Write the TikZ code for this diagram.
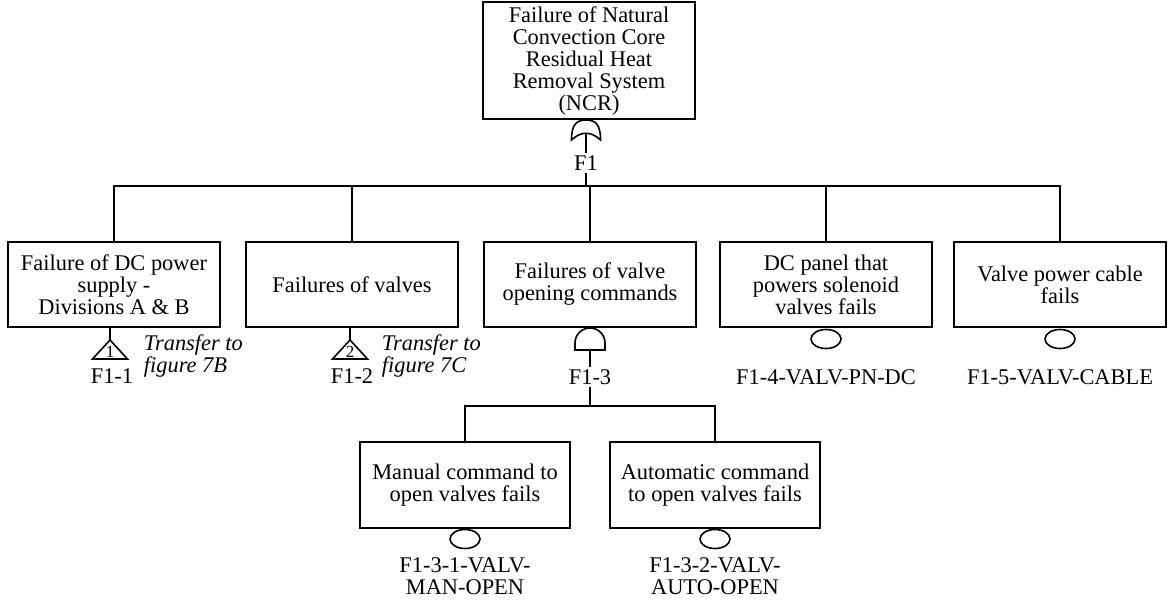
\documentclass[tikz,border=0pt]{standalone}
\usepackage{fontspec}
\setmainfont{Liberation Serif}
\usetikzlibrary{shapes.geometric}

\begin{document}
\begin{tikzpicture}
    [
    x=0.5pt, y=-0.5pt
    , line width=0.9pt
    , evbox/.style = {draw,minimum width=106pt,minimum height=42.5pt,inner sep=2pt,align=center}
    , basic/.style = {draw,ellipse,line width=0.8pt,minimum width=15pt,minimum height=9.5pt,inner sep=0pt}
    , evlbl/.style = {inner sep=1pt,align=center}
    , xferlbl/.style = {inner sep=0pt,anchor=west,align=left,font=\itshape}
    , orgate/.pic = {\draw[line width=0.8pt] (-14.5,0) .. controls (-14.5,-15) and (-10,-20) .. (0,-20)
                      .. controls (10,-20) and (14.5,-15) .. (14.5,0)
                      .. controls (5,-9) and (-5,-9) .. cycle;
                     \coordinate (-in) at (0,-6.75); \coordinate (-out) at (0,-20);}
    , andgate/.pic = {\draw[line width=0.8pt] (-15,0) -- (-15,-7) arc[start angle=180,end angle=360,radius=15] -- (15,0) -- cycle;
                      \coordinate (-in) at (0,0);}
    , xfer/.pic = {\draw[line width=0.8pt] (0,0) -- (17.5,19) -- (-17.5,19) -- cycle;
                   \node[inner sep=0pt,font=\fontsize{8.5}{8.5}\selectfont] at (0,11.5) {#1};
                   \coordinate (-top) at (0,0);}
    ]
\fontsize{11.2}{11}\selectfont
\useasboundingbox (0,0) rectangle (1170,599);

% top event
\node[evbox,minimum height=57.5pt] (ncr) at (589,60.5) {Failure of Natural\\Convection Core\\Residual Heat\\Removal System\\(NCR)};
\pic (gF1) at (586,140) {orgate};
\node[evlbl] (lF1) at (586,163) {F1};
\coordinate (busF1) at (586,186);
\draw (ncr.south -| gF1-out) -- (gF1-out);
\draw (gF1-in) -- (lF1.north);
\draw (lF1.south) -- (busF1);

% second level
\node[evbox] (dcps)  at (114,284.5)  {Failure of DC power\\supply -\\Divisions A \& B};
\node[evbox] (valv)  at (352,284.5)  {Failures of valves};
\node[evbox] (cmd)   at (590,284.5)  {Failures of valve\\opening commands};
\node[evbox] (panel) at (826,284.5)  {DC panel that\\powers solenoid\\valves fails};
\node[evbox] (cable) at (1060,284.5) {Valve power cable\\fails};
\foreach \b in {dcps,valv,cmd,panel,cable}
    \draw (busF1) -| (\b.north);

% transfers
\pic (tF11) at (110,340) {xfer=1};
\draw (tF11-top |- dcps.south) -- (tF11-top);
\node[evlbl] (lF11) at (112,376) {F1-1};
\node[xferlbl] (xF11) at (143,356) {Transfer to\\figure 7B};

\pic (tF12) at (350,340) {xfer=2};
\draw (tF12-top |- valv.south) -- (tF12-top);
\node[evlbl] (lF12) at (352,376) {F1-2};
\node[xferlbl] (xF12) at (381,356) {Transfer to\\figure 7C};

% basic events
\node[basic] (ePanel) at (826,339) {};
\node[evlbl] (lPanel) at (826,377) {F1-4-VALV-PN-DC};
\node[basic] (eCable) at (1060,339) {};
\node[evlbl] (lCable) at (1060,377) {F1-5-VALV-CABLE};

% valve opening commands
\pic (gF13) at (590,350) {andgate};
\node[evlbl] (lF13) at (590,377) {F1-3};
\coordinate (busF13) at (590,406);
\draw (gF13-in) -- (lF13.north);
\draw (lF13.south) -- (busF13);

\node[evbox,minimum width=105pt,minimum height=43pt] (man)  at (465,485) {Manual command to\\open valves fails};
\node[evbox,minimum width=105pt,minimum height=43pt] (auto) at (715,485) {Automatic command\\to open valves fails};
\draw (busF13) -| (man.north);
\draw (busF13) -| (auto.north);

\node[basic] (eMan) at (465,539) {};
\node[evlbl] (lMan) at (465,576) {F1-3-1-VALV-\\MAN-OPEN};
\node[basic] (eAuto) at (715,539) {};
\node[evlbl] (lAuto) at (715,576) {F1-3-2-VALV-\\AUTO-OPEN};
\end{tikzpicture}
\end{document}
